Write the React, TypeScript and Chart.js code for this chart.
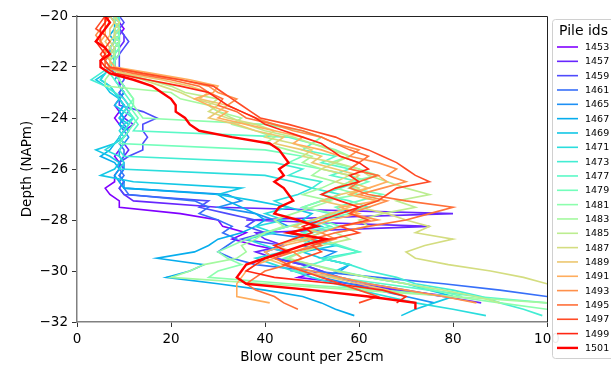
import React, { useEffect, useRef } from "react";
import { Chart, registerables } from "chart.js";

Chart.register(...registerables);

const DEPTHS = [
  -20, -20.25, -20.5, -20.75, -21, -21.25, -21.5, -21.75,
  -22, -22.25, -22.5, -22.75, -23, -23.25, -23.5, -23.75,
  -24, -24.25, -24.5, -24.75, -25, -25.25, -25.5, -25.75,
  -26, -26.25, -26.5, -26.75, -27, -27.25, -27.5, -27.75,
  -28, -28.25, -28.5, -28.75, -29, -29.25, -29.5, -29.75,
  -30, -30.25, -30.5, -30.75, -31, -31.25, -31.5, -31.75,
];

const PILE_IDS = [
  "1453", "1457", "1459", "1461", "1465", "1467", "1469", "1471", "1473", "1477", "1479",
  "1481", "1483", "1485", "1487", "1489", "1491", "1493", "1495", "1497", "1499", "1501",
];

const BLOWS_1453 = [9,9,10,9,9,8,8,8, 8,8,9,9,10,9,8,9, 8,9,10,9,10,9,8,9, 9,8,8,6,7,9,9,22, 30,31,36,33,38,45,42,48, 52,47,58,68,80];
const BLOWS_1457 = [8,9,9,10,10,9,9,8, 8,8,9,10,9,9,10,11, 10,12,10,9,10,11,10,9, 10,9,10,9,10,12,30,80, 36,75,38,40,44,38,42,50, 46,55,60,68,78,86];
const BLOWS_1459 = [9,10,9,10,11,10,9,9, 9,10,10,9,10,9,9,14, 17,14,14,15,14,14,11,9, 10,9,10,9,10,28,26,32, 38,36,40,35,44,40,42,48, 52,56,62,70,78];
const BLOWS_1461 = [8,8,9,9,8,7,8,7, 7,8,9,10,9,10,11,10, 9,10,11,10,9,10,10,9, 9,10,9,10,11,25,28,26, 30,33,31,34,32,30,33,38, 50,64,78,90,100];
const BLOWS_1465 = [8,9,8,8,9,8,7,8, 8,9,8,9,10,9,10,9, 10,9,10,11,10,9,9,10, 10,9,10,10,32,35,30,38, 42,45,40,50,48,55,52,58, 56,52,58,64,70,76];
const BLOWS_1467 = [7,8,8,7,8,7,7,6, 7,6,5,7,8,9,10,9, 10,9,11,10,8,7,5,8, 9,8,9,10,30,32,35,38, 40,38,35,30,28,25,17,27, 24,19,30,40,48,52,55,59];
const BLOWS_1469 = [8,8,9,8,8,7,8,7, 7,6,4,6,7,9,8,10, 9,11,10,9,8,4,7,9, 8,5,12,35,30,38,45,50, 48,52,45,50,55,48,52,58, 55,62,70,75,80,76,72,69];
const BLOWS_1471 = [8,8,9,8,9,8,8,7, 7,6,5,7,8,9,10,11, 12,10,9,10,8,6,9,10, 9,40,46,50,47,42,45,40, 44,38,42,36,40,44,38,42, 46,50,55,60,66,72,80,87];
const BLOWS_1473 = [9,8,9,9,8,9,8,8, 7,5,3,6,8,10,11,10, 12,11,10,9,10,9,10,42, 48,45,52,50,56,52,48,54, 50,46,52,48,55,60,52,58, 62,68,72,80,86,90,95,99];
const BLOWS_1477 = [9,9,8,9,9,8,8,8, 7,7,8,9,10,11,12,11, 12,13,12,45,50,48,55,52, 58,54,60,56,52,58,62,55, 50,54,48,52,56,60,54,50, 46,55,65,75,85,100];
const BLOWS_1479 = [8,9,9,8,9,9,8,8, 8,8,9,10,11,12,11,12, 13,12,11,10,9,40,48,45, 52,58,62,58,65,60,55,58, 52,56,50,46,52,48,44,50, 56,62,70,76,82];
const BLOWS_1481 = [8,8,9,9,8,9,9,8, 8,9,9,10,11,12,12,13, 14,40,48,52,50,55,58,54, 60,64,58,55,60,52,48,55, 50,45,40,36,33,30,32,35, 30,28,45,65,80,90,100];
const BLOWS_1483 = [8,9,8,8,9,8,8,7, 7,7,6,6,20,22,28,30, 35,33,38,42,40,45,50,48, 52,50,55,52,48,54,50,46, 42,44,40,38,35,36,34,27, 24,20,40,60,80,100];
const BLOWS_1485 = [8,8,9,8,8,7,8,7, 7,10,15,20,23,30,28,30, 33,36,40,46,50,54,58,55, 60,62,66,70,75,68,72,65, 60,62,55,58,52,48,45,50, 55,62,70,78,85,90];
const BLOWS_1487 = [8,9,8,8,7,8,7,7, 7,9,14,18,22,25,30,28, 32,38,42,40,46,50,48,55, 52,58,55,60,58,64,60,66, 70,75,72,80,74,70,72,79, 88,95,100,105];
const BLOWS_1489 = [7,8,7,7,6,7,6,6, 6,10,18,24,28,26,32,30, 28,34,38,44,42,48,52,50, 55,60,58,62,56,52,58,54, 50,46,52,48,42,46,40,44, 48,54,60,66,70];
const BLOWS_1491 = [6,7,6,6,5,6,6,7, 8,16,24,30,29,25,28,32, 30,36,42,48,46,52,56,60, 58,64,66,62,58,64,56,60, 54,50,46,50,44,40,42,38, 36,35,34,34,34,41];
const BLOWS_1493 = [6,6,5,4,5,6,6,6, 7,14,22,28,30,34,32,35, 38,42,46,52,55,60,58,64, 68,66,70,65,60,66,62,58, 64,56,52,55,50,46,48,44, 50,56,62,70,78,85];
const BLOWS_1495 = [7,6,6,5,5,6,7,6, 6,12,20,26,28,31,30,34, 36,42,48,52,55,58,62,60, 58,64,60,58,62,70,80,75, 70,62,55,50,52,46,42,45, 40,38,36,38,42,44,47];
const BLOWS_1497 = [6,5,4,6,7,6,5,6, 7,14,22,29,31,33,35,37, 39,45,50,55,58,62,65,68, 70,72,75,68,66,64,60,58, 62,56,60,54,50,52,48,44, 48,52,56,60,64,60];
const BLOWS_1499 = [6,6,5,5,4,5,6,5, 6,8,15,22,28,30,32,35, 38,40,44,48,52,54,56,60, 62,58,60,55,52,56,60,56, 52,48,50,46,42,45,40,38, 36,42,55,65,70,68];
const BLOWS_1501 = [6,7,6,5,4,6,7,5, 5,7,12,16,18,20,21,21, 23,24,26,33,41,43,44,45, 43,44,42,44,45,46,43,42, 47,51,45,53,48,44,40,36, 35,34,36,50,62,72,72];

const SERIES = [
  BLOWS_1453, BLOWS_1457, BLOWS_1459, BLOWS_1461, BLOWS_1465, BLOWS_1467, BLOWS_1469,
  BLOWS_1471, BLOWS_1473, BLOWS_1477, BLOWS_1479, BLOWS_1481, BLOWS_1483, BLOWS_1485,
  BLOWS_1487, BLOWS_1489, BLOWS_1491, BLOWS_1493, BLOWS_1495, BLOWS_1497, BLOWS_1499, BLOWS_1501,
];

const X_TICKS = [0, 20, 40, 60, 80, 100];
const Y_TICKS = [-32, -30, -28, -26, -24, -22, -20];

const FONT = "'DejaVu Sans', sans-serif";

function rainbow(t: number): string {
  const r = Math.min(1, Math.abs(2 * t - 0.5));
  const g = Math.sin(Math.PI * t);
  const b = Math.cos((Math.PI * t) / 2);
  return `rgb(${Math.round(r * 255)},${Math.round(g * 255)},${Math.round(b * 255)})`;
}

const fmt = (v: number) => (v < 0 ? "\u2212" + Math.abs(v) : String(v));

const framePlugin = {
  id: "frame",
  afterDatasetsDraw(chart: any) {
    const { ctx, chartArea } = chart;
    ctx.save();
    ctx.strokeStyle = "#222";
    ctx.lineWidth = 1;
    ctx.beginPath();
    ctx.moveTo(chartArea.left, Math.round(chartArea.top) + 0.5);
    ctx.lineTo(Math.round(chartArea.right) + 0.5, Math.round(chartArea.top) + 0.5);
    ctx.lineTo(Math.round(chartArea.right) + 0.5, chartArea.bottom);
    ctx.stroke();
    ctx.restore();
  },
};

const legendPlugin = {
  id: "pileLegend",
  afterDraw(chart: any) {
    const ctx = chart.ctx;
    const x0 = 552.5, y0 = 19.5, w = 80, h = 339;
    ctx.save();
    const r = 3;
    ctx.beginPath();
    ctx.moveTo(x0 + r, y0);
    ctx.lineTo(x0 + w - r, y0);
    ctx.quadraticCurveTo(x0 + w, y0, x0 + w, y0 + r);
    ctx.lineTo(x0 + w, y0 + h - r);
    ctx.quadraticCurveTo(x0 + w, y0 + h, x0 + w - r, y0 + h);
    ctx.lineTo(x0 + r, y0 + h);
    ctx.quadraticCurveTo(x0, y0 + h, x0, y0 + h - r);
    ctx.lineTo(x0, y0 + r);
    ctx.quadraticCurveTo(x0, y0, x0 + r, y0);
    ctx.closePath();
    ctx.fillStyle = "rgba(255,255,255,0.92)";
    ctx.fill();
    ctx.strokeStyle = "#d0d0d0";
    ctx.lineWidth = 1;
    ctx.stroke();

    ctx.fillStyle = "#000";
    ctx.textBaseline = "middle";
    ctx.textAlign = "left";
    ctx.font = `14px ${FONT}`;
    ctx.fillText("Pile ids", 559, 31);
    ctx.font = `9.5px ${FONT}`;
    chart.data.datasets.forEach((ds: any, i: number) => {
      const y = 47 + i * 14.33;
      ctx.strokeStyle = ds.borderColor;
      ctx.lineWidth = ds.borderWidth;
      ctx.beginPath();
      ctx.moveTo(557, y);
      ctx.lineTo(578, y);
      ctx.stroke();
      ctx.fillStyle = "#000";
      ctx.fillText(ds.label, 585, y + 0.5);
    });
    ctx.restore();
  },
};

export default function App() {
  const ref = useRef<HTMLCanvasElement | null>(null);

  useEffect(() => {
    const canvas = ref.current;
    if (!canvas) return;
    const n = SERIES.length;
    const datasets = SERIES.map((vals, i) => ({
      label: PILE_IDS[i],
      data: vals.map((v, j) => ({ x: v, y: DEPTHS[j] })),
      showLine: true,
      borderColor: rainbow(i / (n - 1)),
      backgroundColor: rainbow(i / (n - 1)),
      borderWidth: i === n - 1 ? 2.4 : 1.6,
      pointRadius: 0,
      fill: false,
      tension: 0,
      order: n - 1 - i,
    }));

    const tickFont = { family: FONT, size: 13.5 };
    const chart = new Chart(canvas, {
      type: "scatter",
      data: { datasets },
      options: {
        animation: false,
        responsive: false,
        devicePixelRatio: 1,
        layout: { padding: { left: 8, right: 64, top: 16, bottom: 0 } },
        plugins: { legend: { display: false }, tooltip: { enabled: false } },
        scales: {
          x: {
            type: "linear",
            min: 0,
            max: 100,
            afterBuildTicks: (s: any) => { s.ticks = X_TICKS.map((v) => ({ value: v })); },
            ticks: { color: "#000", font: tickFont, padding: 4, maxRotation: 0, autoSkip: false, callback: (v: any) => fmt(Number(v)) },
            grid: { drawOnChartArea: false, drawTicks: true, tickLength: 5, color: "#333" },
            border: { display: true, color: "#808080", width: 1.5 },
            title: { display: true, text: "Blow count per 25cm", color: "#000", font: tickFont, padding: { top: 0, bottom: 1 } },
            afterFit: (s: any) => { s.height = 45; },
          },
          y: {
            type: "linear",
            min: -32,
            max: -20,
            afterBuildTicks: (s: any) => { s.ticks = Y_TICKS.map((v) => ({ value: v })); },
            ticks: { color: "#000", font: tickFont, padding: 4, autoSkip: false, callback: (v: any) => fmt(Number(v)) },
            grid: { drawOnChartArea: false, drawTicks: true, tickLength: 5, color: "#333" },
            border: { display: true, color: "#808080", width: 1.5 },
            title: { display: true, text: "Depth (NAPm)", color: "#000", font: tickFont, padding: { top: 11, bottom: 0 } },
            afterFit: (s: any) => { s.width = 69; },
          },
        },
      },
      plugins: [framePlugin, legendPlugin],
    } as any);
    return () => chart.destroy();
  }, []);

  return (
    <div style={{ position: "fixed", left: 0, top: 0, width: 611, height: 367, overflow: "hidden", background: "#fff" }}>
      <canvas ref={ref} width={611} height={367} style={{ display: "block", width: 611, height: 367 }} />
    </div>
  );
}
